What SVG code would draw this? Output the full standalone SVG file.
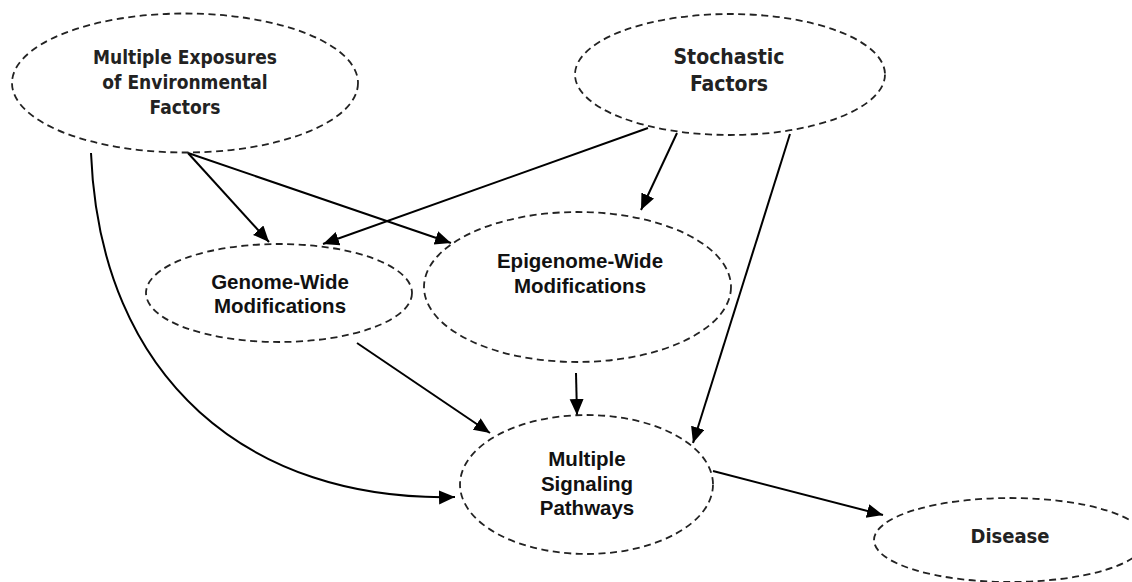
<svg xmlns="http://www.w3.org/2000/svg" width="1132" height="582" viewBox="0 0 1132 582">
<style>
.node ellipse{fill:none;stroke:#222;stroke-width:1.8;stroke-dasharray:7 4.5}
.tA{font-family:"DejaVu Sans Condensed","DejaVu Sans",sans-serif;font-stretch:condensed;font-weight:bold;fill:#222;text-anchor:middle}
.tB{font-family:"Liberation Sans",Arial,sans-serif;font-weight:bold;fill:#111;text-anchor:middle;font-size:20.5px}
.edge{fill:none;stroke:#000;stroke-width:2}
</style>
<defs>
<marker id="ah" markerUnits="userSpaceOnUse" markerWidth="18" markerHeight="16" refX="16" refY="7" orient="auto">
<path d="M0,0 L16,7 L0,14 z" fill="#000"/>
</marker>
</defs>
<rect width="1132" height="582" fill="#fff"/>
<g id="connectors">
<line class="edge" x1="188" y1="153" x2="269" y2="242" marker-end="url(#ah)"/>
<line class="edge" x1="188" y1="153" x2="451" y2="243" marker-end="url(#ah)"/>
<line class="edge" x1="648" y1="128" x2="323" y2="244" marker-end="url(#ah)"/>
<line class="edge" x1="677" y1="133" x2="641" y2="210" marker-end="url(#ah)"/>
<line class="edge" x1="790" y1="134" x2="693" y2="443" marker-end="url(#ah)"/>
<path class="edge" d="M91,153 C100,380 250,502 455,497" marker-end="url(#ah)"/>
<line class="edge" x1="357" y1="343" x2="490" y2="433" marker-end="url(#ah)"/>
<line class="edge" x1="576" y1="373" x2="577" y2="415" marker-end="url(#ah)"/>
<line class="edge" x1="713" y1="471" x2="883" y2="515" marker-end="url(#ah)"/>
</g>
<g id="n-exposures" class="node">
<ellipse cx="185" cy="83" rx="173" ry="69.5"/>
<text class="tA" font-size="19" x="185" y="64">Multiple Exposures</text>
<text class="tA" font-size="19" x="185" y="89">of Environmental</text>
<text class="tA" font-size="19" x="185" y="114">Factors</text>
</g>
<g id="n-stochastic" class="node">
<ellipse cx="730" cy="74.5" rx="155" ry="60.5"/>
<text class="tA" font-size="21" x="729" y="64">Stochastic</text>
<text class="tA" font-size="21" x="729" y="91">Factors</text>
</g>
<g id="n-genome" class="node">
<ellipse cx="279" cy="293" rx="133" ry="49"/>
<text class="tB" x="280" y="289">Genome-Wide</text>
<text class="tB" x="280" y="313">Modifications</text>
</g>
<g id="n-epigenome" class="node">
<ellipse cx="577.5" cy="287" rx="153.5" ry="75"/>
<text class="tB" x="580" y="268">Epigenome-Wide</text>
<text class="tB" x="580" y="293">Modifications</text>
</g>
<g id="n-signaling" class="node">
<ellipse cx="586.5" cy="484.5" rx="126.5" ry="69.5"/>
<text class="tB" x="587" y="466">Multiple</text>
<text class="tB" x="587" y="491">Signaling</text>
<text class="tB" x="587" y="515">Pathways</text>
</g>
<g id="n-disease" class="node">
<ellipse cx="1010" cy="540" rx="136" ry="42"/>
<text class="tA" font-size="20" x="1010" y="543">Disease</text>
</g>
</svg>
